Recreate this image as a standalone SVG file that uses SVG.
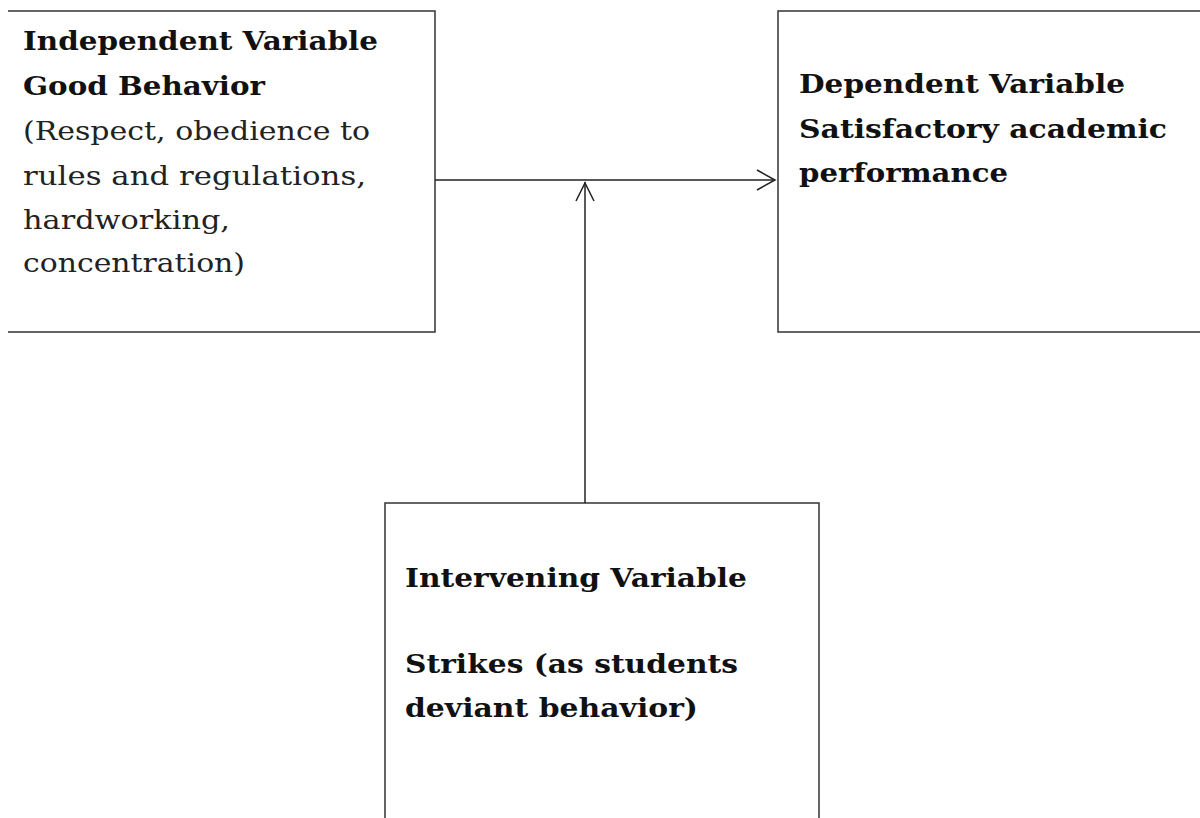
<svg xmlns="http://www.w3.org/2000/svg" width="1200" height="818" viewBox="0 0 1200 818">
<style>
.box{fill:none;stroke:#333;stroke-width:1.5}
.b{font-family:"DejaVu Serif","Liberation Serif",serif;font-weight:bold;font-size:26px;fill:#111}
.r{font-family:"DejaVu Serif","Liberation Serif",serif;font-size:26px;fill:#222}
.conn{fill:none;stroke:#222;stroke-width:1.5}
</style>
<rect width="1200" height="818" fill="#fff"/>
<g id="independent">
<path class="box" d="M8,11 H435 V332 H8"/>
<text class="b" x="23" y="50" textLength="355" lengthAdjust="spacingAndGlyphs">Independent Variable</text>
<text class="b" x="23" y="95" textLength="242" lengthAdjust="spacingAndGlyphs">Good Behavior</text>
<text class="r" x="23" y="140" textLength="347" lengthAdjust="spacingAndGlyphs">(Respect, obedience to</text>
<text class="r" x="23" y="185" textLength="343" lengthAdjust="spacingAndGlyphs">rules and regulations,</text>
<text class="r" x="23" y="229" textLength="207" lengthAdjust="spacingAndGlyphs">hardworking,</text>
<text class="r" x="23" y="272" textLength="222" lengthAdjust="spacingAndGlyphs">concentration)</text>
</g>
<g id="dependent">
<path class="box" d="M1200,11 H778 V332 H1200"/>
<text class="b" x="799" y="93" textLength="326" lengthAdjust="spacingAndGlyphs">Dependent Variable</text>
<text class="b" x="799" y="138" textLength="368" lengthAdjust="spacingAndGlyphs">Satisfactory academic</text>
<text class="b" x="799" y="182" textLength="209" lengthAdjust="spacingAndGlyphs">performance</text>
</g>
<g id="intervening">
<path class="box" d="M385,818 V503 H819 V818"/>
<text class="b" x="405" y="587" textLength="342" lengthAdjust="spacingAndGlyphs">Intervening Variable</text>
<text class="b" x="405" y="673" textLength="333" lengthAdjust="spacingAndGlyphs">Strikes (as students</text>
<text class="b" x="405" y="717" textLength="293" lengthAdjust="spacingAndGlyphs">deviant behavior)</text>
</g>
<g id="connectors">
<path class="conn" d="M435,180 H775"/>
<path class="conn" d="M757,170 L775,180 L757,190"/>
<path class="conn" d="M585,503 V182"/>
<path class="conn" d="M576,201 L585,183 L594,201"/>
</g>
</svg>
